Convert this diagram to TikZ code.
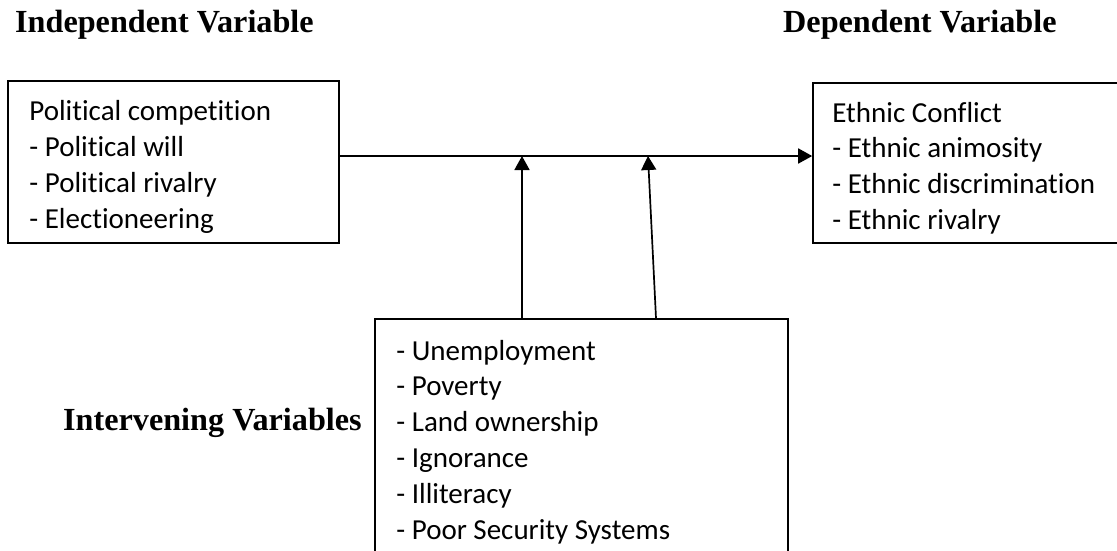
\documentclass[tikz,border=0pt]{standalone}
\usepackage{fontspec}
\setmainfont{Carlito}[Ligatures=CommonOff]
\newfontfamily\headfont{Liberation Serif}
\usepackage{xcolor}
\usepackage{tikz}
\usetikzlibrary{arrows.meta,positioning,calc}
\definecolor{ink}{HTML}{000000}
\tikzset{
  varbox/.style={draw=ink,line width=1.6pt,inner sep=0pt},
  listtext/.style={inner sep=0pt,align=left,anchor=north west,
                   font=\fontsize{29}{35.9}\selectfont},
  headtext/.style={anchor=base west,inner sep=0pt,
                   font=\headfont\bfseries\fontsize{32.2}{36}\selectfont},
  arr/.style={-{Triangle[length=14pt,width=15pt]},line width=1.7pt,ink},
}

\begin{document}
\begin{tikzpicture}[x=1pt,y=-1pt]
  \clip (0,0) rectangle (1117,550);
  \fill[white] (0,0) rectangle (1117,550);
  % headings
  \node[headtext] (indep) at (15,32) {Independent Variable};
  \node[headtext] (dep) at (783,32) {Dependent Variable};
  \node[headtext] (interv) at (63,430) {Intervening Variables};
  % variable boxes
  \node[varbox,minimum width=331pt,minimum height=162pt] (pc) at (173.5,162) {};
  \node[varbox,minimum width=327pt,minimum height=160pt] (ec) at (976.5,163) {};
  \node[varbox,minimum width=413pt,minimum height=242pt] (iv) at (581.5,440) {};
  \node[listtext] (pclist) at ([shift={(22pt,-20pt)}]pc.north west)
    {Political competition\\- Political will\\- Political rivalry\\- Electioneering};
  \node[listtext] (eclist) at ([shift={(20pt,-19.5pt)}]ec.north west)
    {Ethnic Conflict\\- Ethnic animosity\\- Ethnic discrimination\\- Ethnic rivalry};
  \node[listtext] (ivlist) at ([shift={(22pt,-21.5pt)}]iv.north west)
    {- Unemployment\\- Poverty\\- Land ownership\\- Ignorance\\- Illiteracy\\- Poor Security Systems};
  % links
  \draw[arr] ([yshift=6pt]pc.east) -- ([yshift=7pt]ec.west);
  \coordinate (m1) at (522,156);
  \coordinate (m2) at (648,156);
  \draw[arr] (iv.north -| m1) -- (m1);
  \draw[arr] ([xshift=74.5pt]iv.north) -- (m2);
\end{tikzpicture}
\end{document}
